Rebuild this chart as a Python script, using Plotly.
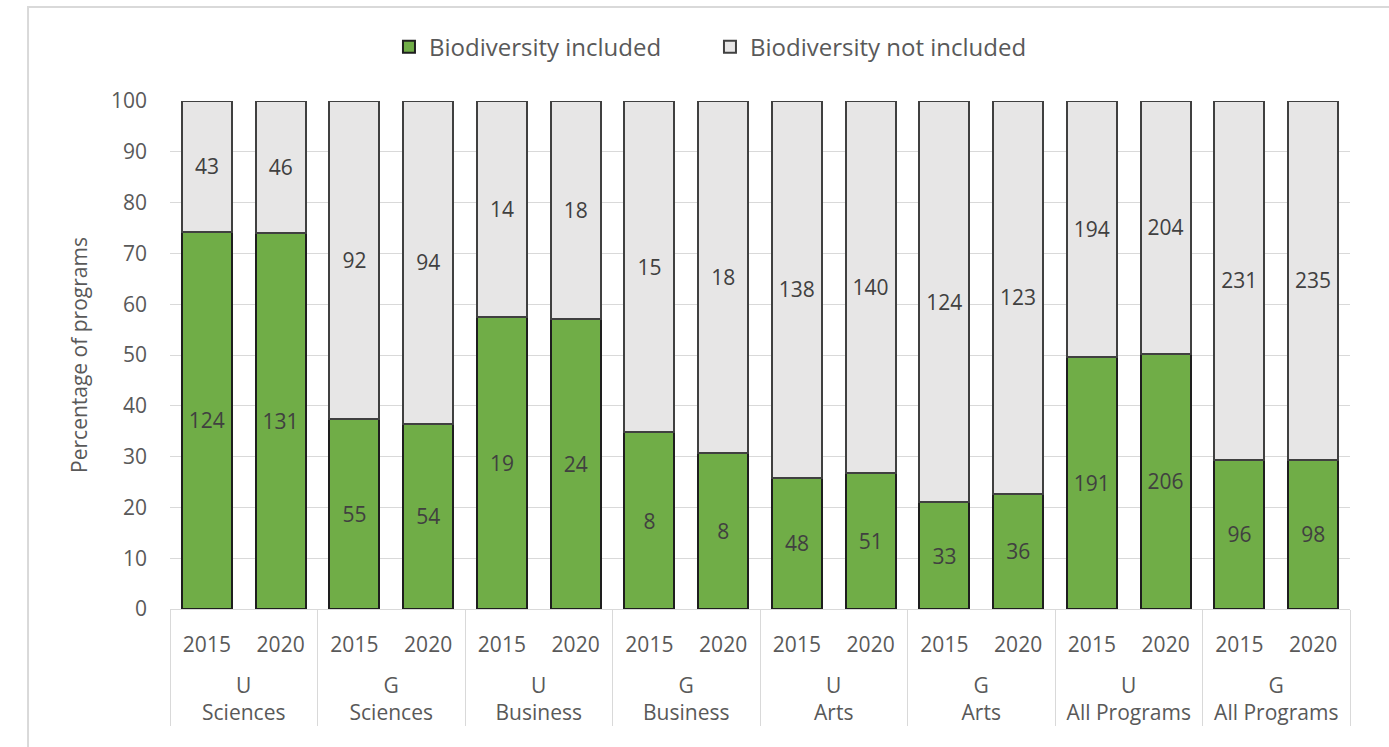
import plotly.graph_objects as go

groups = ["U<br>Sciences", "G<br>Sciences", "U<br>Business", "G<br>Business",
          "U<br>Arts", "G<br>Arts", "U<br>All Programs", "G<br>All Programs"]
years = ["2015", "2020"]
included = [124, 131, 55, 54, 19, 24, 8, 8, 48, 51, 33, 36, 191, 206, 96, 98]
not_included = [43, 46, 92, 94, 14, 18, 15, 18, 138, 140, 124, 123, 194, 204, 231, 235]

xg = ["<br>" + g for g in groups for _ in years]
xy = [y for _ in groups for y in years]
pct_inc = [i / (i + n) * 100 for i, n in zip(included, not_included)]
pct_not = [n / (i + n) * 100 for i, n in zip(included, not_included)]

FONT = "Open Sans"
TXT = "#595959"
FS = 21

fig = go.Figure()
fig.add_trace(go.Bar(
    x=[xg, xy], y=pct_inc, name="Biodiversity included",
    marker=dict(color="#70ad47", line=dict(color="#1e1e1e", width=2)),
    text=[str(v) for v in included], textposition="inside",
    insidetextanchor="middle", textangle=0,
    textfont=dict(family=FONT, size=FS, color="#404040"),
))
fig.add_trace(go.Bar(
    x=[xg, xy], y=pct_not, name="Biodiversity not included",
    marker=dict(color="#e7e6e6", line=dict(color="#404040", width=2)),
    text=[str(v) for v in not_included], textposition="inside",
    insidetextanchor="middle", textangle=0,
    textfont=dict(family=FONT, size=FS, color="#404040"),
))

fig.update_layout(
    barmode="stack", bargap=0.32,
    width=1389, height=747,
    margin=dict(l=170, r=39, t=101, b=138),
    paper_bgcolor="white", plot_bgcolor="white",
    font=dict(family=FONT, size=FS, color=TXT),
    legend=dict(orientation="h", x=0.4576, xanchor="center", y=1.106, yanchor="middle",
                entrywidth=276, entrywidthmode="pixels",
                font=dict(family=FONT, size=24, color=TXT), traceorder="normal"),
    uniformtext=dict(mode=False),
    shapes=[dict(type="rect", xref="paper", yref="paper",
                 x0=-0.1203, x1=1.05, y0=-0.3, y1=1.185,
                 line=dict(color="#d9d9d9", width=2), fillcolor="rgba(0,0,0,0)",
                 layer="below")],
)
fig.update_yaxes(range=[0, 100], dtick=10, showgrid=True, gridcolor="#d9d9d9",
                 gridwidth=1, zeroline=False, ticks="", ticklabelstandoff=22,
                 tickfont=dict(family=FONT, size=FS, color=TXT),
                 title=dict(text="Percentage of programs", standoff=17,
                            font=dict(family=FONT, size=FS, color=TXT)))
fig.update_xaxes(type="multicategory", showline=True, linecolor="#d9d9d9", linewidth=1,
                 showdividers=True, dividercolor="#d9d9d9", dividerwidth=1,
                 ticklabelstandoff=17,
                 tickfont=dict(family=FONT, size=FS, color=TXT), showgrid=False)

fig.write_html("out.html")
